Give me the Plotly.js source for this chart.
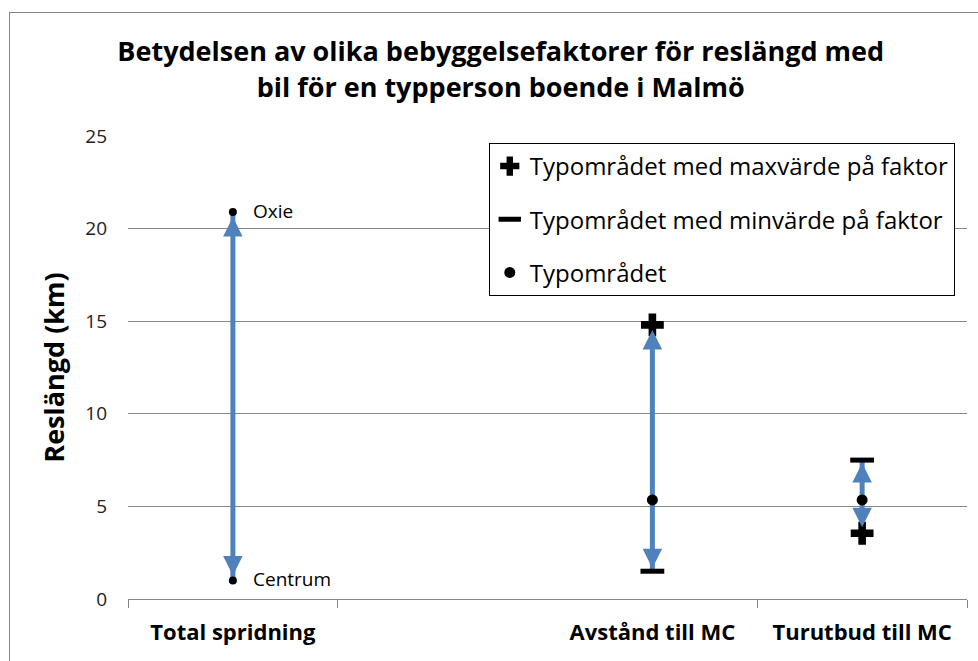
<!DOCTYPE html>
<html>
<head>
<meta charset="utf-8">
<script src="https://cdn.plot.ly/plotly-3.0.1.min.js"></script>
<style>
  html, body { margin: 0; padding: 0; background: #fff; }
  #wrap { position: relative; width: 978px; height: 661px; overflow: hidden; }
  #chart { width: 978px; height: 661px; }
  #frame { position: absolute; left: 9px; top: 12px; width: 2000px; height: 2000px;
           border-left: 1px solid #868686; border-top: 1px solid #868686; pointer-events: none; }
</style>
</head>
<body>
<div id="wrap"><div id="chart"></div><div id="frame"></div></div>
<script>
// ---- data ----
const categories = ['Total spridning', '', 'Avstånd till MC', 'Turutbud till MC'];
const totalCategory = 'Total spridning';
const totalLabels = ['Oxie', 'Centrum'];
const totalValues = [20.9, 1.0];
const factorCategories = ['Avstånd till MC', 'Turutbud till MC'];
const maxValues = [14.8, 3.55];   // Typområdet med maxvärde på faktor
const minValues = [1.5, 7.5];     // Typområdet med minvärde på faktor
const typValues = [5.35, 5.35];   // Typområdet
const yTicks = [0, 5, 10, 15, 20, 25];

const FONT = 'Open Sans, DejaVu Sans, sans-serif';
const pos = c => categories.indexOf(c) + 0.5;
const blue = '#4F81BD';
const grid = '#868686';

// arrow ranges (low, high) per category, from the data
const ranges = [{x: pos(totalCategory), lo: Math.min(...totalValues), hi: Math.max(...totalValues), soLo: 5, soHi: 5}];
factorCategories.forEach((c, i) => {
  const lo = Math.min(maxValues[i], minValues[i]);
  const hi = Math.max(maxValues[i], minValues[i]);
  ranges.push({x: pos(c), lo, hi,
    soLo: (lo === maxValues[i]) ? 6 : 3,
    soHi: (hi === maxValues[i]) ? 5 : 3});
});

const traces = [];
// arrow shafts (drawn first, beneath the markers)
ranges.forEach(r => traces.push({
  x: [r.x, r.x], y: [r.lo, r.hi], mode: 'lines',
  line: {color: blue, width: 5}, showlegend: false, hoverinfo: 'skip', cliponaxis: false
}));
traces.push(
  {
    x: totalLabels.map(() => pos(totalCategory)), y: totalValues, mode: 'markers',
    marker: {symbol: 'circle', size: 8, color: '#000'},
    showlegend: false, hoverinfo: 'skip', cliponaxis: false
  },
  {
    name: 'Typområdet med maxvärde på faktor', legendgroup: 'a',
    x: factorCategories.map(pos), y: maxValues, mode: 'markers',
    marker: {symbol: 'cross', size: 19, color: '#000', line: {width: 0}},
    cliponaxis: false
  },
  {
    name: 'Typområdet med minvärde på faktor', legendgroup: 'b',
    x: factorCategories.map(pos), y: minValues, mode: 'markers',
    marker: {symbol: 'line-ew', size: 17, color: '#000', line: {width: 5, color: '#000'}},
    cliponaxis: false
  },
  {
    name: 'Typområdet', legendgroup: 'c',
    x: factorCategories.map(pos), y: typValues, mode: 'markers',
    marker: {symbol: 'circle', size: 11, color: '#000'},
    cliponaxis: false
  },
  { // invisible trace carrying the boundary tick marks on overlay axis
    x: [0, 4], y: [0, 0], xaxis: 'x2', mode: 'markers',
    marker: {opacity: 0}, showlegend: false, hoverinfo: 'skip'
  }
);

// arrowheads as short annotations ending at each extreme
const annotations = [];
ranges.forEach(r => {
  const head = {xref: 'x', yref: 'y', showarrow: true, arrowhead: 2, arrowsize: 0.78,
    arrowwidth: 5, arrowcolor: blue, ax: 0, text: ''};
  annotations.push(Object.assign({}, head, {x: r.x, y: r.hi, ay: 22, standoff: r.soHi}));
  annotations.push(Object.assign({}, head, {x: r.x, y: r.lo, ay: -22, standoff: r.soLo}));
});
// point labels
totalLabels.forEach((t, i) => annotations.push({
  x: pos(totalCategory), y: totalValues[i], xref: 'x', yref: 'y', text: t, showarrow: false,
  xanchor: 'left', xshift: 18, yshift: 1, font: {family: FONT, size: 19, color: '#000'}
}));

const layout = {
  width: 978, height: 661,
  margin: {l: 128, r: 11, t: 136, b: 62},
  paper_bgcolor: '#fff', plot_bgcolor: '#fff',
  title: {
    text: '<b>Betydelsen av olika bebyggelsefaktorer för reslängd med<br>bil för en typperson boende i Malmö</b>',
    font: {family: FONT, size: 27, color: '#000'},
    x: 0.512, xanchor: 'center', y: 0.907, yanchor: 'top'
  },
  xaxis: {
    range: [0, 4], tickvals: categories.map((c, i) => i + 0.5).filter((v, i) => categories[i] !== ''),
    ticktext: categories.filter(c => c !== ''),
    ticks: '', showgrid: false, zeroline: false, showline: true, linecolor: grid, linewidth: 1,
    tickfont: {family: FONT, size: 22, color: '#000', weight: 'bold'}, ticklabelstandoff: 14,
    fixedrange: true
  },
  xaxis2: {
    overlaying: 'x', matches: 'x', side: 'bottom', range: [0, 4],
    tickvals: [0, 1, 3, 4], ticks: 'outside', ticklen: 8, tickcolor: grid, tickwidth: 1,
    showticklabels: false, showgrid: false, zeroline: false, showline: false
  },
  yaxis: {
    range: [0, 25], tickvals: yTicks, ticks: '', showgrid: true, gridcolor: grid, gridwidth: 1,
    zeroline: false, showline: false,
    tickfont: {family: FONT, size: 19, color: '#222'}, ticklabelstandoff: 20,
    title: {text: '<b>Reslängd (km)</b>', font: {family: FONT, size: 27, color: '#000'}, standoff: 12}
  },
  legend: {
    x: 0.43, xanchor: 'left', y: 0.985, yanchor: 'top',
    bgcolor: '#fff', bordercolor: '#000', borderwidth: 1,
    font: {family: FONT, size: 24, color: '#000'},
    traceorder: 'grouped', tracegroupgap: 19, itemwidth: 30
  },
  annotations: annotations,
  showlegend: true
};

Plotly.newPlot('chart', traces, layout, {displayModeBar: false, staticPlot: true});
</script>
</body>
</html>
